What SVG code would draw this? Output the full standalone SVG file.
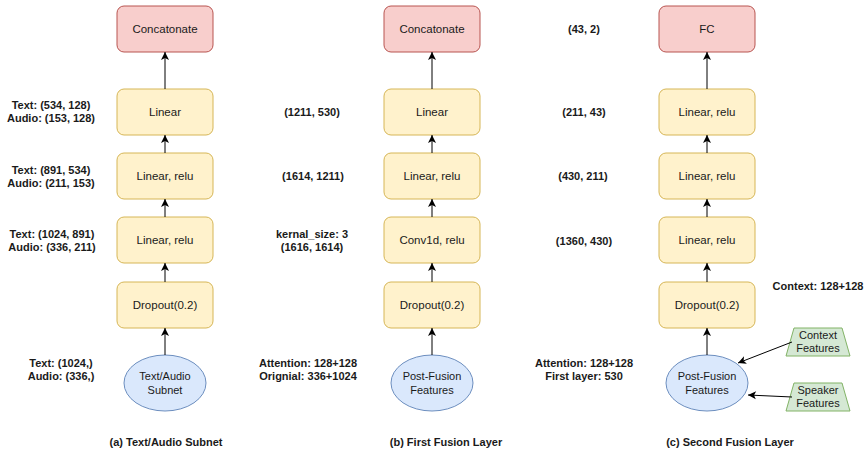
<svg xmlns="http://www.w3.org/2000/svg" width="866" height="453" viewBox="0 0 866 453">
<style>
  text { font-family: "Liberation Sans", Arial, sans-serif; fill: #1a1a1a; }
  .lbl { font-size: 11px; font-weight: bold; text-anchor: middle; }
  .nt { font-size: 11.5px; text-anchor: middle; }
  .et { font-size: 11px; text-anchor: middle; }
  .red { fill: #f8cecc; stroke: #b85450; stroke-width: 1; }
  .yel { fill: #fff2cc; stroke: #d6b656; stroke-width: 1; }
  .blu { fill: #dae8fc; stroke: #6c8ebf; stroke-width: 1; }
  .grn { fill: #d5e8d4; stroke: #82b366; stroke-width: 1; }
  .edge { stroke: #000; stroke-width: 1; fill: none; marker-end: url(#arr); }
</style>
<defs>
  <marker id="arr" markerUnits="userSpaceOnUse" markerWidth="10" markerHeight="10" viewBox="0 0 10 10" refX="9" refY="5" orient="auto">
    <path d="M1,1 L9,5 L1,9 L3,5 z" fill="#000"/>
  </marker>
</defs>
<rect width="866" height="453" fill="#fff"/>

<!-- Column (a) -->
<g id="a-concat"><rect class="red" x="117" y="6" width="96" height="46" rx="7"/><text class="nt" x="165" y="33">Concatonate</text></g>
<g id="a-linear"><rect class="yel" x="117" y="89" width="96" height="46" rx="7"/><text class="nt" x="165" y="116">Linear</text></g>
<g id="a-linrelu1"><rect class="yel" x="117" y="153" width="96" height="46" rx="7"/><text class="nt" x="165" y="180">Linear, relu</text></g>
<g id="a-linrelu2"><rect class="yel" x="117" y="217" width="96" height="46" rx="7"/><text class="nt" x="165" y="244">Linear, relu</text></g>
<g id="a-dropout"><rect class="yel" x="117" y="282" width="96" height="46" rx="7"/><text class="nt" x="165" y="309">Dropout(0.2)</text></g>
<g id="a-subnet"><ellipse class="blu" cx="165" cy="383" rx="41" ry="28"/><text class="et" x="165" y="380">Text/Audio</text><text class="et" x="165" y="394">Subnet</text></g>

<!-- Column (b) -->
<g id="b-concat"><rect class="red" x="384" y="6" width="96" height="46" rx="7"/><text class="nt" x="432" y="33">Concatonate</text></g>
<g id="b-linear"><rect class="yel" x="384" y="89" width="96" height="46" rx="7"/><text class="nt" x="432" y="116">Linear</text></g>
<g id="b-linrelu"><rect class="yel" x="384" y="153" width="96" height="46" rx="7"/><text class="nt" x="432" y="180">Linear, relu</text></g>
<g id="b-conv"><rect class="yel" x="384" y="217" width="96" height="46" rx="7"/><text class="nt" x="432" y="244">Conv1d, relu</text></g>
<g id="b-dropout"><rect class="yel" x="384" y="282" width="96" height="46" rx="7"/><text class="nt" x="432" y="309">Dropout(0.2)</text></g>
<g id="b-post"><ellipse class="blu" cx="432" cy="383" rx="41" ry="28"/><text class="et" x="432" y="380">Post-Fusion</text><text class="et" x="432" y="394">Features</text></g>

<!-- Column (c) -->
<g id="c-fc"><rect class="red" x="659" y="6" width="96" height="46" rx="7"/><text class="nt" x="707" y="33">FC</text></g>
<g id="c-linrelu1"><rect class="yel" x="659" y="89" width="96" height="46" rx="7"/><text class="nt" x="707" y="116">Linear, relu</text></g>
<g id="c-linrelu2"><rect class="yel" x="659" y="153" width="96" height="46" rx="7"/><text class="nt" x="707" y="180">Linear, relu</text></g>
<g id="c-linrelu3"><rect class="yel" x="659" y="217" width="96" height="46" rx="7"/><text class="nt" x="707" y="244">Linear, relu</text></g>
<g id="c-dropout"><rect class="yel" x="659" y="282" width="96" height="46" rx="7"/><text class="nt" x="707" y="309">Dropout(0.2)</text></g>
<g id="c-post"><ellipse class="blu" cx="707" cy="383" rx="41" ry="28"/><text class="et" x="707" y="380">Post-Fusion</text><text class="et" x="707" y="394">Features</text></g>
<g id="c-context"><polygon class="grn" points="786,356 850,356 842,328 794,328"/><text class="et" x="818" y="339">Context</text><text class="et" x="818" y="352">Features</text></g>
<g id="c-speaker"><polygon class="grn" points="786,411 850,411 842,383 794,383"/><text class="et" x="818" y="394">Speaker</text><text class="et" x="818" y="407">Features</text></g>

<!-- Connectors -->
<g id="connectors">
  <line class="edge" x1="165" y1="355" x2="165" y2="328"/>
  <line class="edge" x1="165" y1="282" x2="165" y2="263"/>
  <line class="edge" x1="165" y1="217" x2="165" y2="199"/>
  <line class="edge" x1="165" y1="153" x2="165" y2="135"/>
  <line class="edge" x1="165" y1="89" x2="165" y2="52"/>
  <line class="edge" x1="432" y1="355" x2="432" y2="328"/>
  <line class="edge" x1="432" y1="282" x2="432" y2="263"/>
  <line class="edge" x1="432" y1="217" x2="432" y2="199"/>
  <line class="edge" x1="432" y1="153" x2="432" y2="135"/>
  <line class="edge" x1="432" y1="89" x2="432" y2="52"/>
  <line class="edge" x1="707" y1="355" x2="707" y2="328"/>
  <line class="edge" x1="707" y1="282" x2="707" y2="263"/>
  <line class="edge" x1="707" y1="217" x2="707" y2="199"/>
  <line class="edge" x1="707" y1="153" x2="707" y2="135"/>
  <line class="edge" x1="707" y1="89" x2="707" y2="52"/>
  <line class="edge" x1="792" y1="342" x2="738" y2="363"/>
  <line class="edge" x1="792" y1="397" x2="748" y2="395"/>
</g>

<!-- Labels (a) -->
<text class="lbl" x="51" y="109">Text: (534, 128)</text>
<text class="lbl" x="51" y="122">Audio: (153, 128)</text>
<text class="lbl" x="51" y="174">Text: (891, 534)</text>
<text class="lbl" x="51" y="187">Audio: (211, 153)</text>
<text class="lbl" x="52" y="238">Text: (1024, 891)</text>
<text class="lbl" x="52" y="251">Audio: (336, 211)</text>
<text class="lbl" x="61" y="367">Text: (1024,)</text>
<text class="lbl" x="61" y="380">Audio: (336,)</text>
<text class="lbl" x="166" y="446">(a) Text/Audio Subnet</text>

<!-- Labels (b) -->
<text class="lbl" x="312" y="116">(1211, 530)</text>
<text class="lbl" x="313" y="180">(1614, 1211)</text>
<text class="lbl" x="312" y="238">kernal_size: 3</text>
<text class="lbl" x="312" y="251">(1616, 1614)</text>
<text class="lbl" x="308" y="367">Attention: 128+128</text>
<text class="lbl" x="308" y="380">Orignial: 336+1024</text>
<text class="lbl" x="446" y="446">(b) First Fusion Layer</text>

<!-- Labels (c) -->
<text class="lbl" x="584" y="33">(43, 2)</text>
<text class="lbl" x="584" y="116">(211, 43)</text>
<text class="lbl" x="583" y="180">(430, 211)</text>
<text class="lbl" x="584" y="245">(1360, 430)</text>
<text class="lbl" x="584" y="367">Attention: 128+128</text>
<text class="lbl" x="584" y="380">First layer: 530</text>
<text class="lbl" x="818" y="290">Context: 128+128</text>
<text class="lbl" x="730" y="446">(c) Second Fusion Layer</text>
</svg>
